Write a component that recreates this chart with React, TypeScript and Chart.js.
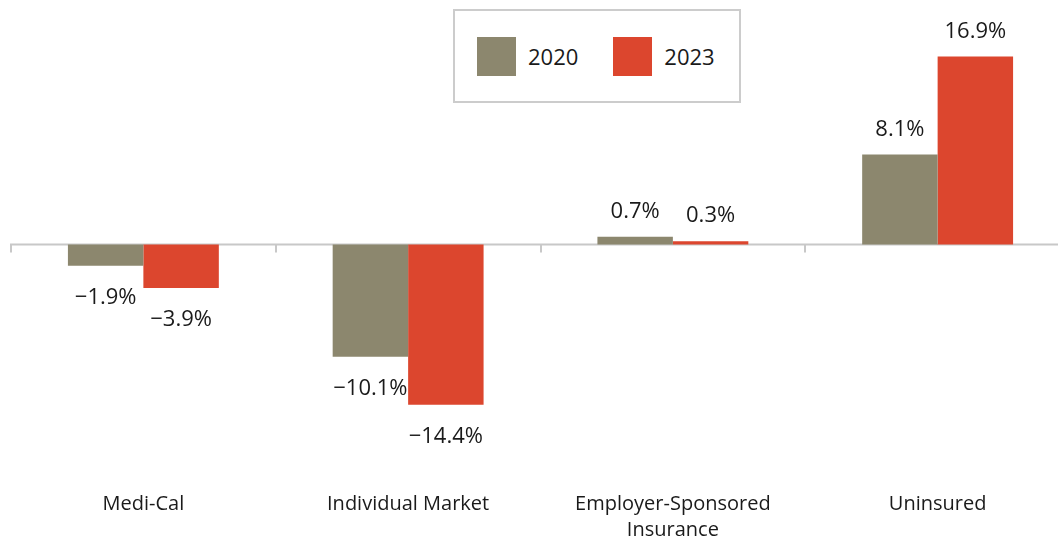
import React, { useEffect, useRef } from "react";
import { Chart, registerables } from "chart.js";

Chart.register(...registerables);

const categories: string[][] = [
  ["Medi-Cal"],
  ["Individual Market"],
  ["Employer-Sponsored", "Insurance"],
  ["Uninsured"],
];
const values2020 = [-1.9, -10.1, 0.7, 8.1];
const values2023 = [-3.9, -14.4, 0.3, 16.9];
const seriesNames = ["2020", "2023"];
const seriesColors = ["#8C876E", "#DC462E"];
const yMin = -20;
const yMax = 20;

const FONT = "'Open Sans', 'Noto Sans', sans-serif";
const TEXT = "#1a1a1a";

const fmt = (v: number) => (v < 0 ? "\u2212" : "") + Math.abs(v).toFixed(1) + "%";

const zeroLinePlugin = {
  id: "zeroLine",
  beforeDatasetsDraw(chart: any) {
    const { ctx, scales, chartArea } = chart;
    const y0 = scales.y.getPixelForValue(0);
    const xs = scales.x;
    const half = (xs.getPixelForValue(1) - xs.getPixelForValue(0)) / 2;
    ctx.save();
    ctx.strokeStyle = "#c8c8c8";
    ctx.lineWidth = 2;
    ctx.beginPath();
    ctx.moveTo(chartArea.left - 1, y0);
    ctx.lineTo(chart.width, y0);
    for (let i = 0; i <= categories.length; i++) {
      const x = Math.round(xs.getPixelForValue(i) - half);
      ctx.moveTo(x, y0);
      ctx.lineTo(x, y0 + 8);
    }
    ctx.stroke();
    ctx.restore();
  },
};

const dataLabelPlugin = {
  id: "dataLabels",
  afterDatasetsDraw(chart: any) {
    const { ctx } = chart;
    ctx.save();
    ctx.font = `22px ${FONT}`;
    ctx.fillStyle = TEXT;
    ctx.textAlign = "center";
    ctx.textBaseline = "middle";
    chart.data.datasets.forEach((ds: any, di: number) => {
      const meta = chart.getDatasetMeta(di);
      meta.data.forEach((bar: any, i: number) => {
        const v = ds.data[i] as number;
        const y = v >= 0 ? bar.y - 25 : bar.y + 32;
        ctx.fillText(fmt(v), bar.x, y);
      });
    });
    ctx.restore();
  },
};

export default function App() {
  const canvasRef = useRef<HTMLCanvasElement | null>(null);

  useEffect(() => {
    document.body.style.margin = "0";
    const canvas = canvasRef.current!;
    const chart = new Chart(canvas, {
      type: "bar",
      data: {
        labels: categories as any,
        datasets: [
          {
            label: seriesNames[0],
            data: values2020,
            backgroundColor: seriesColors[0],
            barPercentage: 1,
            categoryPercentage: 0.57,
          },
          {
            label: seriesNames[1],
            data: values2023,
            backgroundColor: seriesColors[1],
            barPercentage: 1,
            categoryPercentage: 0.57,
          },
        ],
      },
      options: {
        responsive: false,
        animation: false,
        layout: { padding: { left: 11, right: 0, top: 22, bottom: 0 } },
        plugins: { legend: { display: false }, tooltip: { enabled: false } },
        scales: {
          x: {
            grid: { display: false, drawTicks: false },
            border: { display: false },
            ticks: {
              autoSkip: false,
              maxRotation: 0,
              padding: 24,
              color: TEXT,
              font: { family: FONT, size: 20, lineHeight: 1.3 },
            },
            afterFit: (s: any) => {
              s.height = 73;
            },
          },
          y: { display: false, min: yMin, max: yMax },
        },
      },
      plugins: [zeroLinePlugin, dataLabelPlugin],
    });
    return () => chart.destroy();
  }, []);

  const legendItem = (i: number) => (
    <div style={{ display: "flex", alignItems: "center" }}>
      <div style={{ width: 39, height: 39, background: seriesColors[i] }} />
      <span style={{ marginLeft: 12, fontSize: 22, color: TEXT }}>{seriesNames[i]}</span>
    </div>
  );

  return (
    <div
      style={{
        position: "fixed",
        left: 0,
        top: 0,
        width: 1058,
        height: 540,
        overflow: "hidden",
        background: "#fff",
        fontFamily: FONT,
      }}
    >
      <canvas ref={canvasRef} width={1070} height={540} style={{ display: "block" }} />
      <div
        style={{
          position: "absolute",
          left: 453,
          top: 9,
          width: 288,
          height: 94,
          border: "2px solid #cccccc",
          background: "#fff",
          display: "flex",
          alignItems: "center",
          boxSizing: "border-box",
          paddingLeft: 22,
          gap: 35,
        }}
      >
        {legendItem(0)}
        {legendItem(1)}
      </div>
    </div>
  );
}
